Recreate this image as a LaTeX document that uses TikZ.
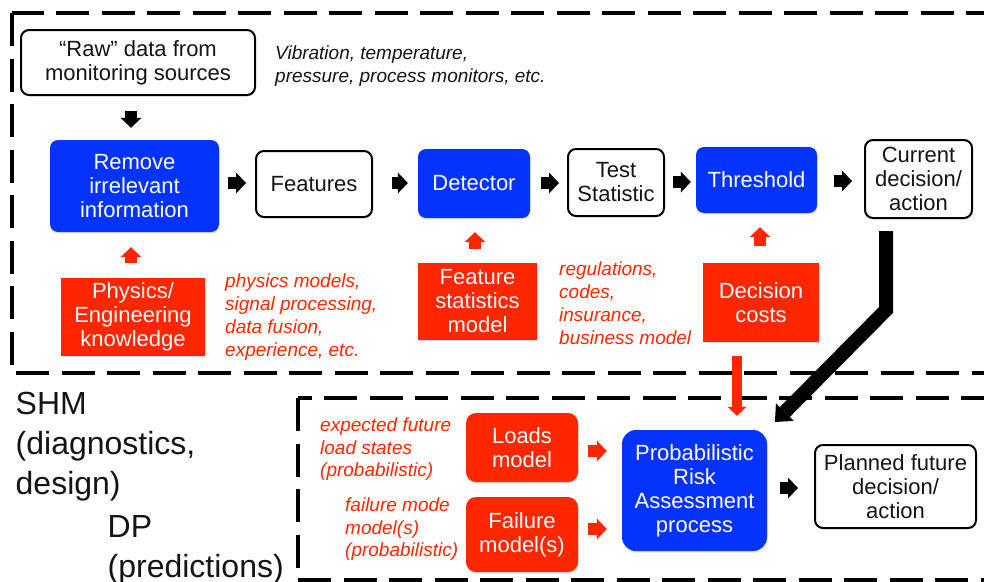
\documentclass[tikz,border=0pt]{standalone}
\usepackage{fontspec}
\setmainfont{Liberation Sans}
\usetikzlibrary{arrows.meta,shadows}
\definecolor{kblue}{RGB}{4,51,255}
\definecolor{kred}{RGB}{255,38,0}
\definecolor{ink}{RGB}{20,20,20}

\begin{document}
\begin{tikzpicture}[x=1pt,y=-1pt,
  box/.style={rectangle, inner sep=0pt, align=center, text=ink,
    font=\fontsize{22}{24}\selectfont},
  soft/.style={drop shadow={opacity=0.22, shadow xshift=0.6pt, shadow yshift=-1.4pt}},
  plainbox/.style={box, draw=black, line width=2pt, rounded corners=8pt, fill=white, soft},
  bluebox/.style={box, fill=kblue, text=white, rounded corners=8pt, soft},
  redbox/.style={box, fill=kred, text=white, soft},
  note/.style={anchor=north west, inner sep=0pt, align=left, text=kred,
    font=\fontsize{19}{23}\selectfont\itshape},
  heading/.style={anchor=north west, inner sep=0pt, align=left, text=ink,
    font=\fontsize{32}{40}\selectfont},
  frame/.style={draw=black, line width=4pt, dash pattern=on 33pt off 12.5pt},
  flow/.style={draw=black, line width=12pt,
    -{Triangle[width=21pt,length=10pt,line width=0pt]}},
  redflow/.style={flow, draw=kred},
  thinred/.style={draw=kred, line width=10pt,
    -{Triangle[width=19pt,length=9pt,line width=0pt]}},
  bigflow/.style={draw=black, line width=14pt, line join=miter,
    -{Triangle[width=25pt,length=14pt,line width=0pt]}},
]
\useasboundingbox (0,0) rectangle (984,581);
\clip (0,0) rectangle (984,581);

% dashed frames of the two stages
\draw[frame] (12,13) rectangle (1010,373);
\draw[frame] (298,398) rectangle (1010,580);

% stage labels
\node[heading] (shm) at (15.5,392) {SHM\\(diagnostics,\\design)};
\node[heading] (dp) at (107.5,515) {DP\\(predictions)};

% diagnostic chain
\node[plainbox, minimum width=234pt, minimum height=65pt] (raw) at (138,62.5)
  {“Raw” data from\\monitoring sources};
\node[note, text=ink] (sources) at (275,46)
  {Vibration, temperature,\\pressure, process monitors, etc.};
\node[bluebox, minimum width=169pt, minimum height=92pt] (remove) at (134.5,186)
  {Remove\\irrelevant\\information};
\node[plainbox, minimum width=116pt, minimum height=66pt] (features) at (314,184) {Features};
\node[bluebox, minimum width=112pt, minimum height=69pt] (detector) at (474,183.5) {Detector};
\node[plainbox, minimum width=96pt, minimum height=67pt] (teststat) at (616,182.5) {Test\\Statistic};
\node[bluebox, minimum width=121pt, minimum height=66pt] (threshold) at (756.5,180) {Threshold};
\node[plainbox, minimum width=107pt, minimum height=78pt] (current) at (918.5,179)
  {Current\\decision/\\action};

% supporting knowledge
\node[redbox, minimum width=144pt, minimum height=78pt] (physics) at (133,317)
  {Physics/\\Engineering\\knowledge};
\node[note] (physnote) at (225,274)
  {physics models,\\signal processing,\\data fusion,\\experience, etc.};
\node[redbox, minimum width=119pt, minimum height=77pt] (featstat) at (477.5,301.5)
  {Feature\\statistics\\model};
\node[note] (regnote) at (559,262)
  {regulations,\\codes,\\insurance,\\business model};
\node[redbox, minimum width=116pt, minimum height=79pt] (costs) at (761,302.5)
  {Decision\\costs};

% prognostic chain
\node[note, font=\fontsize{19}{22.5}\selectfont\itshape] (loadnote) at (320,418)
  {expected future\\load states\\(probabilistic)};
\node[note, font=\fontsize{19}{22.5}\selectfont\itshape] (failnote) at (345,498)
  {failure mode\\model(s)\\(probabilistic)};
\node[redbox, rounded corners=10pt, minimum width=112pt, minimum height=69pt] (loads) at (522,447.5)
  {Loads\\model};
\node[redbox, rounded corners=10pt, minimum width=112pt, minimum height=75pt] (failure) at (522,534.5)
  {Failure\\model(s)};
\node[bluebox, rounded corners=14pt, minimum width=145pt, minimum height=121pt] (pra) at (694.5,490.5)
  {Probabilistic\\Risk\\Assessment\\process};
\node[plainbox, minimum width=161pt, minimum height=83pt] (planned) at (895.5,486.5)
  {Planned future\\decision/\\action};

% guide coordinates for the connectors
\coordinate (downx) at (131,0);
\coordinate (physx) at (131,0);
\coordinate (fsx) at (475,0);
\coordinate (dcx) at (760,0);
\coordinate (costx) at (737,0);
\coordinate (bend) at (886,310);

% black flow arrows
\draw[flow, shorten <=15pt, shorten >=12pt] (downx |- raw.south) -- (downx |- remove.north);
\draw[flow, shorten <=9pt, shorten >=9pt] (remove.east |- 0,183) -- (features.west |- 0,183);
\draw[flow, shorten <=19pt, shorten >=10pt] (features.east |- 0,183) -- (detector.west |- 0,183);
\draw[flow, shorten <=11pt, shorten >=8pt] (detector.east |- 0,183) -- (teststat.west |- 0,183);
\draw[flow, shorten <=8pt, shorten >=5pt] (teststat.east |- 0,182) -- (threshold.west |- 0,182);
\draw[flow, shorten <=17pt, shorten >=12pt] (threshold.east |- 0,181) -- (current.west |- 0,181);
\draw[flow, shorten <=13pt, shorten >=16pt] (pra.east |- 0,488) -- (planned.west |- 0,488);

% red input arrows
\draw[redflow, shorten <=15pt, shorten >=15pt] (physx |- physics.north) -- (physx |- remove.south);
\draw[redflow, shorten <=14pt, shorten >=14pt] (fsx |- featstat.north) -- (fsx |- detector.south);
\draw[redflow, shorten <=17pt, shorten >=14pt] (dcx |- costs.north) -- (dcx |- threshold.south);
\draw[redflow, shorten <=10pt, shorten >=15pt] (loads.east |- 0,451) -- (pra.west |- 0,451);
\draw[redflow, shorten <=10pt, shorten >=15pt] (failure.east |- 0,529) -- (pra.west |- 0,529);
\draw[thinred, shorten <=14pt, shorten >=14pt] (costx |- costs.south) -- (costx |- pra.north);

% current decision feeds the risk assessment
\draw[bigflow, shorten <=12pt, shorten >=11pt] (bend |- current.south) -- (bend) -- (pra.north east);
\end{tikzpicture}
\end{document}
